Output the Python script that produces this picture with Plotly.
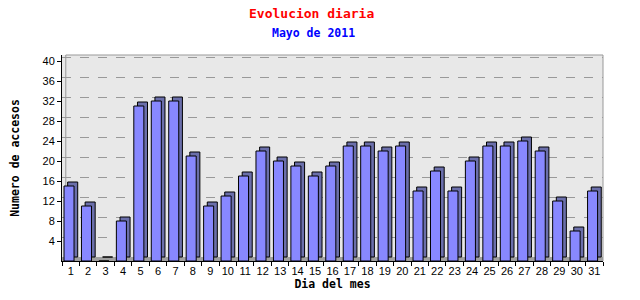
import plotly.graph_objects as go

days = [str(d) for d in range(1, 32)]
accesos = [15, 11, 0, 8, 31, 32, 32, 21, 11, 13, 17, 22, 20, 19, 17, 19,
           23, 23, 22, 23, 14, 18, 14, 20, 23, 23, 24, 22, 12, 6, 14]
y_ticks = [4, 8, 12, 16, 20, 24, 28, 32, 36, 40]

title_text = "Evolucion diaria"
subtitle_text = "Mayo de 2011"
x_title = "Dia del mes"
y_title = "Numero de accesos"

DEPTH = 0.8          # depth in y units (~4px)
BAR_W = 0.575
FRONT_OFF = -0.385
SIDE_SHIFT = 0.21

fig = go.Figure()

# invisible trace keeping the primary axes active
fig.add_trace(go.Scatter(x=days, y=[None] * len(days), mode="markers",
                         showlegend=False, hoverinfo="skip"))

# 3D depth (side + top) drawn on a shifted axis
fig.add_trace(go.Bar(
    x=days, y=accesos, base=0, width=BAR_W, offset=FRONT_OFF + SIDE_SHIFT,
    marker=dict(color="#6b6fab", line=dict(color="black", width=1)),
    yaxis="y2", hoverinfo="skip", showlegend=False,
))
# front faces (same shifted axis, base lowered by the depth)
fig.add_trace(go.Bar(
    x=days, y=accesos, base=-DEPTH, width=BAR_W, offset=FRONT_OFF,
    marker=dict(color="#8888ff", line=dict(color="black", width=1)),
    yaxis="y2", showlegend=False,
))

mono = "DejaVu Sans Mono"

fig.update_layout(
    width=640, height=300,
    margin=dict(l=62, r=37, t=55, b=39),
    paper_bgcolor="white",
    plot_bgcolor="#e8e8e8",
    barmode="overlay",
    xaxis=dict(
        type="category", range=[-0.5, 30.5], tickson="boundaries",
        ticks="outside", ticklen=4, tickcolor="black", tickangle=0,
        showline=True, linecolor="black", linewidth=1,
        showgrid=False, zeroline=False,
        tickfont=dict(family="Liberation Sans", size=11, color="black"),
        title=dict(text=x_title, font=dict(family=mono, size=11.5, color="black", weight="bold"), standoff=2),
    ),
    yaxis=dict(
        range=[0, 41.2], tickvals=y_ticks,
        ticks="outside", ticklen=4, tickcolor="black",
        showline=True, linecolor="black", linewidth=1,
        showgrid=False, zeroline=False,
        tickfont=dict(family="Liberation Sans", size=11, color="black"),
        title=dict(text=y_title, font=dict(family=mono, size=11.5, color="black", weight="bold"), standoff=20),
    ),
    yaxis2=dict(
        range=[-DEPTH, 41.2 - DEPTH], overlaying="y", tickvals=y_ticks,
        showticklabels=False, showgrid=True, gridcolor="#999999",
        griddash="dash", gridwidth=1, zeroline=False, showline=False,
    ),
    shapes=[
        dict(type="rect", xref="paper", yref="y", x0=0, x1=1, y0=0, y1=DEPTH,
             fillcolor="#a0a0a0", line=dict(width=0), layer="below"),
        dict(type="rect", xref="paper", yref="paper", x0=0.007, x1=1, y0=0, y1=1,
             fillcolor="rgba(0,0,0,0)", line=dict(color="#999999", width=1), layer="below"),
    ],
    annotations=[
        dict(text=title_text, xref="paper", yref="paper", x=0.462, y=1.0,
             yanchor="middle", yshift=42, showarrow=False,
             font=dict(family=mono, size=13, color="red", weight="bold")),
        dict(text=subtitle_text, xref="paper", yref="paper", x=0.464, y=1.0,
             yanchor="middle", yshift=22.5, showarrow=False,
             font=dict(family=mono, size=11.5, color="blue", weight="bold")),
    ],
)

fig.write_html("out.html")
